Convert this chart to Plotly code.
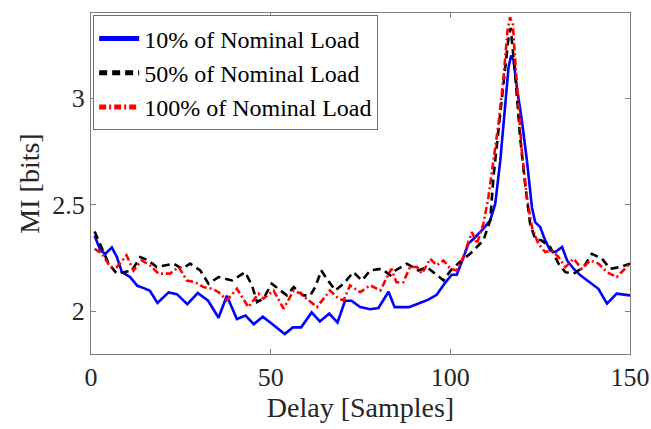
import plotly.graph_objects as go

# 10% of Nominal Load
d10 = [1, 2.6, 4, 5.8, 7.2, 8.6, 10.9, 12.9, 14.7, 16.4, 18.5, 21.6, 23.9, 26.8, 29.7, 32.6,
       35.5, 37.8, 40.6, 43, 45.3, 47.8, 50.5, 53.9, 56.2, 58.5, 61.4, 63.7, 66.3, 68.6, 70.7,
       72.5, 74.9, 77.7, 80, 82.8, 84.5, 86.5, 88.5, 90.8, 93.9, 96.2, 98.5, 100.4, 101.8, 103.6,
       105, 106.9, 109.2, 111.1, 112.5, 113.9, 115.3, 116.2, 116.9, 117.6, 118.5, 119.9, 121.3,
       122.7, 123.6, 125, 126.4, 127.8, 129.2, 131.1, 132.5, 134.3, 136.2, 138, 139.9, 141.2,
       143.6, 146.3, 150]
mi10 = [2.356, 2.286, 2.27, 2.30, 2.255, 2.184, 2.161, 2.12, 2.109, 2.097, 2.04, 2.089, 2.081,
        2.034, 2.086, 2.05, 1.97, 2.073, 1.964, 1.98, 1.94, 1.975, 1.94, 1.894, 1.925, 1.925,
        1.995, 1.953, 1.99, 1.948, 2.05, 2.05, 2.02, 2.01, 2.016, 2.092, 2.02, 2.02, 2.02, 2.035,
        2.055, 2.078, 2.133, 2.172, 2.172, 2.25, 2.317, 2.348, 2.388, 2.427, 2.505, 2.707, 2.973,
        3.145, 3.20, 3.178, 3.052, 2.897, 2.709, 2.489, 2.419, 2.396, 2.333, 2.286, 2.278, 2.302,
        2.239, 2.2, 2.169, 2.145, 2.122, 2.106, 2.036, 2.083, 2.075]

# 50% of Nominal Load
d50 = [1, 2.6, 4.9, 7.2, 9.1, 11.4, 13.7, 16, 18.3, 20.7, 23, 25.3, 27.6, 30.4, 32.7, 35.5,
       39.2, 42.9, 44.8, 46.2, 48, 50.3, 52.7, 54.5, 56.4, 59.1, 61, 62.4, 64.1, 65.6, 68, 70.3,
       73, 75.4, 77.7, 80.9, 83.3, 84.7, 87.9, 91.1, 93.5, 95.8, 98.1, 100, 102.5, 105.5, 109.2,
       111.1, 112, 113.4, 114.8, 116.2, 116.8, 118.1, 119.4, 120.8, 122.2, 123.6, 125.4, 127.8,
       130.1, 132, 134.3, 137.1, 139.4, 142.2, 144.5, 147.3, 150]
mi50 = [2.375, 2.31, 2.224, 2.177, 2.184, 2.192, 2.255, 2.239, 2.208, 2.216, 2.224, 2.2, 2.224,
        2.192, 2.13, 2.161, 2.145, 2.184, 2.122, 2.044, 2.06, 2.13, 2.098, 2.075, 2.114, 2.075,
        2.075, 2.114, 2.192, 2.153, 2.098, 2.13, 2.184, 2.145, 2.192, 2.2, 2.169, 2.192, 2.224,
        2.192, 2.208, 2.177, 2.145, 2.19, 2.23, 2.27, 2.333, 2.427, 2.63, 2.85, 3.068, 3.286,
        3.33, 3.10, 2.82, 2.599, 2.411, 2.34, 2.333, 2.302, 2.224, 2.184, 2.177, 2.208, 2.27,
        2.247, 2.2, 2.208, 2.224]

# 100% of Nominal Load
d100 = [1, 3.1, 5.4, 7.2, 9.9, 11.8, 14.1, 16.4, 18.8, 22, 24.4, 26.7, 29, 31.3, 33.7, 35.5,
        37.8, 40.6, 43.8, 46.6, 48, 50.8, 53.6, 56.4, 58.3, 60.1, 62.9, 66.5, 68.9, 70.3, 72.1,
        74.9, 77.7, 80.5, 83.6, 85, 86.9, 88.8, 90.7, 92.1, 94.4, 96.2, 98.1, 100, 101.8, 103.6,
        106, 107.4, 109.2, 110.6, 112, 113.4, 114.8, 115.9, 116.6, 117.4, 118, 119, 119.9, 121.3,
        122.7, 124.5, 126.4, 128.2, 130.1, 132, 134.3, 136.6, 138.9, 141.2, 143.6, 146.3, 149, 150]
mi100 = [2.294, 2.27, 2.208, 2.208, 2.263, 2.192, 2.239, 2.216, 2.177, 2.177, 2.208, 2.145,
         2.137, 2.114, 2.106, 2.09, 2.052, 2.106, 2.02, 2.083, 2.06, 2.098, 2.013, 2.098, 2.083,
         2.06, 2.02, 2.098, 2.06, 2.052, 2.122, 2.09, 2.122, 2.098, 2.2, 2.137, 2.137, 2.208,
         2.208, 2.177, 2.247, 2.216, 2.239, 2.2, 2.192, 2.255, 2.372, 2.317, 2.411, 2.536, 2.707,
         2.88, 3.098, 3.317, 3.38, 3.348, 3.19, 2.94, 2.752, 2.536, 2.396, 2.317, 2.278, 2.286,
         2.255, 2.208, 2.247, 2.2, 2.239, 2.224, 2.184, 2.161, 2.208, 2.224]

names = ["10% of Nominal Load", "50% of Nominal Load", "100% of Nominal Load"]
xticks = [0, 50, 100, 150]
yticks = [2, 2.5, 3]
ytick_text = ["2", "2.5", "3"]

FONT = "Liberation Serif"
AX = "#7f7f7f"

fig = go.Figure()
fig.add_trace(go.Scatter(x=d10, y=mi10, mode="lines", name=names[0],
                         line=dict(color="#0000ff", width=2.6)))
fig.add_trace(go.Scatter(x=d50, y=mi50, mode="lines", name=names[1],
                         line=dict(color="#000000", width=2.6, dash="8px,5px")))
fig.add_trace(go.Scatter(x=d100, y=mi100, mode="lines", name=names[2],
                         line=dict(color="#ff0000", width=2.6, dash="7px,3px,2px,3px")))

axis_common = dict(showline=True, linecolor=AX, linewidth=1, mirror="ticks",
                   ticks="inside", tickcolor=AX, ticklen=5, tickwidth=1,
                   showgrid=False, zeroline=False, automargin=False,
                   tickfont=dict(family=FONT, size=26, color="#262626"))

fig.update_xaxes(range=[0, 150], tickvals=xticks, **axis_common,
                 title=dict(text="Delay [Samples]", font=dict(family=FONT, size=28, color="#262626"),
                            standoff=4))
fig.update_yaxes(range=[1.8, 3.4], tickvals=yticks, ticktext=ytick_text, **axis_common,
                 title=dict(text="MI [bits]", font=dict(family=FONT, size=28, color="#262626"),
                            standoff=4))

fig.update_layout(
    width=651, height=429,
    margin=dict(l=91, r=21, t=13, b=75, autoexpand=False),
    plot_bgcolor="white", paper_bgcolor="white",
    font=dict(family=FONT, color="#000000"),
    showlegend=True,
    legend=dict(x=0.004, y=0.993, xanchor="left", yanchor="top",
                bgcolor="white", bordercolor="#6f6f6f", borderwidth=1,
                font=dict(family=FONT, size=24, color="#000000"),
                itemwidth=40, tracegroupgap=0,
                itemsizing="constant"),
)

fig.write_html("out.html")
